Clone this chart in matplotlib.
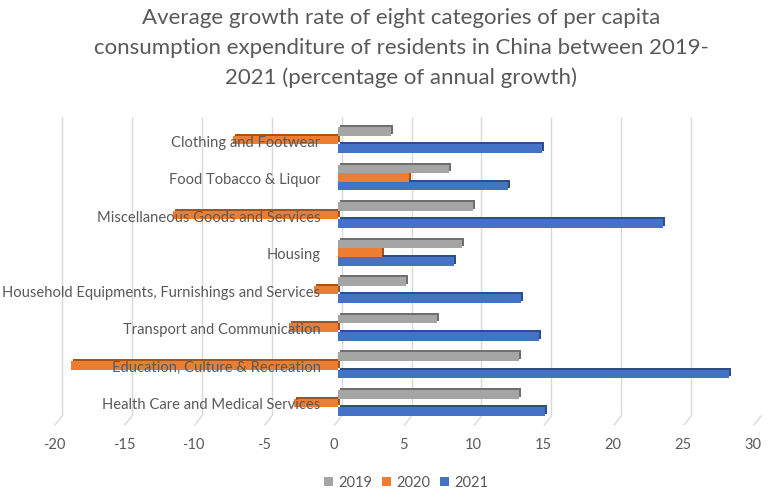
import matplotlib
matplotlib.use('Agg')
import matplotlib.pyplot as plt
from matplotlib.transforms import ScaledTranslation
import numpy as np

# Data (percent annual growth)
categories = ['Clothing and Footwear', 'Food Tobacco & Liquor', 'Miscellaneous Goods and Services',
              'Housing', 'Household Equipments, Furnishings and Services',
              'Transport and Communication', 'Education, Culture & Recreation',
              'Health Care and Medical Services']
growth_2019 = [3.8, 8.0, 9.7, 8.9, 4.9, 7.1, 13.0, 13.0]
growth_2020 = [-7.5, 5.1, -11.8, 3.2, -1.7, -3.5, -19.1, -3.1]
growth_2021 = [14.6, 12.2, 23.3, 8.3, 13.1, 14.4, 28.0, 14.8]
years = ['2019', '2020', '2021']
xticks = list(range(-20, 31, 5))

face_colors = ['#A5A5A5', '#ED7D31', '#4472C4']
side_colors = ['#6F6F6F', '#A4531B', '#2C4F8C']
text_color = '#595959'

plt.rcParams['font.family'] = ['Lato', 'DejaVu Sans']

fig = plt.figure(figsize=(7.7, 4.97), dpi=100)
W, H = 770, 497
ax = fig.add_axes([58 / W, 81 / H, 699 / W, 298.6 / H])

y = np.arange(len(categories))
step = 0.23
offsets = [-step, 0, step]
series = [growth_2019, growth_2020, growth_2021]

# shifted darker copy gives the 3D depth look
depth = ScaledTranslation(2 / 100, 2 / 100, fig.dpi_scale_trans)
for vals, off, fc, sc in zip(series, offsets, face_colors, side_colors):
    ax.barh(y + off, vals, height=step, color=sc, transform=ax.transData + depth, zorder=2)
for vals, off, fc, lab in zip(series, offsets, face_colors, years):
    ax.barh(y + off, vals, height=step, color=fc, label=lab, zorder=3)

ax.set_xlim(-20, 30)
ax.set_ylim(7.35, -0.6)

# back-wall gridlines sit a few pixels right of the bar base
back = ScaledTranslation(4 / 100, 0, fig.dpi_scale_trans)
ax.vlines(xticks, -0.6, 7.35, colors='#D9D9D9', linewidth=1,
          transform=ax.transData + back, zorder=1)
# floor lines
for xv in xticks:
    x0, y0 = ax.transData.transform((xv, 7.35))
    ax.plot([x0 + 4, x0 - 3], [y0, y0 - 9], color='#D9D9D9', linewidth=1,
            transform=None, clip_on=False, zorder=1)

for s in ax.spines.values():
    s.set_visible(False)
ax.set_yticks([])
ax.set_xticks(xticks)
ax.set_xticklabels([str(t) for t in xticks])
ax.tick_params(axis='x', length=0, pad=16, labelsize=10.5, labelcolor=text_color)
shift = ScaledTranslation(-4 / 100, 0, fig.dpi_scale_trans)
for lbl in ax.get_xticklabels():
    lbl.set_transform(lbl.get_transform() + shift)

# category labels sit just left of the zero line, over the bars
lab_tr = ax.transData + ScaledTranslation(-17 / 100, 0, fig.dpi_scale_trans)
for yi, cat in zip(y, categories):
    ax.text(0, yi + 0.07, cat, transform=lab_tr, ha='right', va='center',
            fontsize=10.6, color=text_color, zorder=5)

fig.text(401 / W, 1 - 48 / H, 'Average growth rate of eight categories of per capita\n'
         'consumption expenditure of residents in China between 2019-\n'
         '2021 (percentage of annual growth)',
         ha='center', va='center', fontsize=16, color=text_color, linespacing=1.6)

leg = fig.legend(loc='center', bbox_to_anchor=(406 / W, 1 - 483 / H), ncol=3, frameon=False,
                 fontsize=10.5, handlelength=0.6, handleheight=0.6, handletextpad=0.35,
                 columnspacing=0.7)
for t in leg.get_texts():
    t.set_color(text_color)

fig.savefig('out.png', dpi=100)
